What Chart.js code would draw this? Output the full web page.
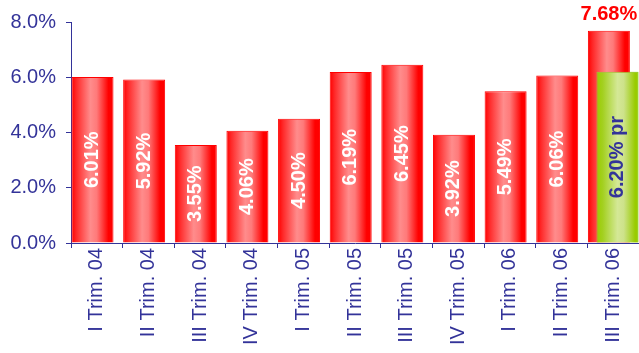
<!DOCTYPE html>
<html>
<head>
<meta charset="utf-8">
<script src="https://cdn.jsdelivr.net/npm/chart.js@4/dist/chart.umd.min.js"></script>
<style>
  html, body { margin: 0; padding: 0; background: #ffffff; }
  #wrap { width: 639px; height: 353px; }
</style>
</head>
<body>
<div id="wrap"><canvas id="c" width="639" height="353"></canvas></div>
<script>
const categories = ['I Trim. 04','II Trim. 04','III Trim. 04','IV Trim. 04','I Trim. 05','II Trim. 05','III Trim. 05','IV Trim. 05','I Trim. 06','II Trim. 06','III Trim. 06'];
const redValues = [6.01, 5.92, 3.55, 4.06, 4.50, 6.19, 6.45, 3.92, 5.49, 6.06, 7.68];
const greenValues = [null, null, null, null, null, null, null, null, null, null, 6.20];
const greenSuffix = ' pr';
const yTicks = [0, 2, 4, 6, 8];

const NAVY = '#333399';
const FONT = '"Liberation Sans", Arial, sans-serif';

const gradientStops = {
  0: [[0, '#ff0000'], [0.12, '#ff2a2a'], [0.45, '#ff8c8c'], [0.6, '#ff7a7a'], [0.88, '#ff0000'], [1, '#ff0000']],
  1: [[0, '#99cc00'], [0.15, '#a3d020'], [0.5, '#d4e896'], [0.65, '#cde28a'], [0.92, '#99cc00'], [1, '#99cc00']]
};

const barPlugin = {
  id: 'barDecor',
  beforeDatasetsDraw(chart) {
    const ctx = chart.ctx;
    chart.data.datasets.forEach((ds, di) => {
      const meta = chart.getDatasetMeta(di);
      meta.data.forEach((el, i) => {
        if (ds.data[i] == null) return;
        const l = el.x - el.width / 2, r = el.x + el.width / 2;
        const g = ctx.createLinearGradient(l, 0, r, 0);
        gradientStops[di].forEach(s => g.addColorStop(s[0], s[1]));
        el.options = Object.assign({}, el.options, { backgroundColor: g });
      });
    });
  },
  afterDatasetsDraw(chart) {
    const ctx = chart.ctx;
    // green series drawn above the red one
    chart.getDatasetMeta(1).controller.draw();
    const redMeta = chart.getDatasetMeta(0);
    const greenMeta = chart.getDatasetMeta(1);
    ctx.save();
    ctx.font = 'bold 20px ' + FONT;
    redMeta.data.forEach((el, i) => {
      const v = redValues[i];
      if (v == null) return;
      const txt = v.toFixed(2) + '%';
      if (greenValues[i] != null) {
        ctx.fillStyle = '#ff0000';
        ctx.textAlign = 'center';
        ctx.textBaseline = 'middle';
        ctx.fillText(txt, el.x, el.y - 16);
      } else {
        ctx.save();
        ctx.translate(el.x, (el.y + el.base) / 2);
        ctx.rotate(-Math.PI / 2);
        ctx.fillStyle = '#ffffff';
        ctx.textAlign = 'center';
        ctx.textBaseline = 'middle';
        ctx.fillText(txt, 0, 0);
        ctx.restore();
      }
    });
    greenMeta.data.forEach((el, i) => {
      const v = greenValues[i];
      if (v == null) return;
      const txt = v.toFixed(2) + '%' + greenSuffix;
      ctx.save();
      ctx.translate(el.x, (el.y + el.base) / 2);
      ctx.rotate(-Math.PI / 2);
      ctx.fillStyle = NAVY;
      ctx.textAlign = 'center';
      ctx.textBaseline = 'middle';
      ctx.fillText(txt, 0, 0);
      ctx.restore();
    });
    ctx.restore();
  }
};

new Chart(document.getElementById('c'), {
  type: 'bar',
  data: {
    labels: categories,
    datasets: [
      {
        label: 'Rosso',
        data: redValues,
        backgroundColor: () => '#ff4040',
        borderColor: '#ff0000',
        borderWidth: 1,
        borderSkipped: 'bottom',
        categoryPercentage: 1 / 3,
        barPercentage: 4.88
      },
      {
        label: 'Verde',
        data: greenValues,
        backgroundColor: () => '#b8d84a',
        borderColor: '#99cc33',
        borderWidth: 1,
        borderSkipped: 'bottom',
        categoryPercentage: 1 / 3,
        barPercentage: 4.88
      }
    ]
  },
  options: {
    responsive: false,
    animation: false,
    events: [],
    layout: { padding: { top: 21, right: 0, left: 0, bottom: 0 } },
    plugins: {
      legend: { display: false },
      tooltip: { enabled: false },
      title: { display: false }
    },
    scales: {
      x: {
        offset: true,
        afterFit: (s) => { s.height = 110; s.paddingLeft = 0; s.paddingRight = 0; },
        border: { display: true, color: NAVY, width: 1 },
        grid: { display: true, drawOnChartArea: false, drawTicks: true, tickLength: 5, color: NAVY, offset: true },
        ticks: {
          color: NAVY,
          font: { family: FONT, size: 20 },
          minRotation: 90,
          maxRotation: 90,
          padding: 0,
          autoSkip: false
        }
      },
      y: {
        min: 0,
        max: 8,
        afterFit: (s) => { s.width = 71; },
        afterBuildTicks: (s) => { s.ticks = yTicks.map(v => ({ value: v })); },
        border: { display: true, color: NAVY, width: 1 },
        grid: { display: true, drawOnChartArea: false, drawTicks: true, tickLength: 5, color: NAVY },
        ticks: {
          color: NAVY,
          font: { family: FONT, size: 20 },
          padding: 10,
          callback: (v) => Number(v).toFixed(1) + '%'
        }
      }
    }
  },
  plugins: [barPlugin]
});
</script>
</body>
</html>
